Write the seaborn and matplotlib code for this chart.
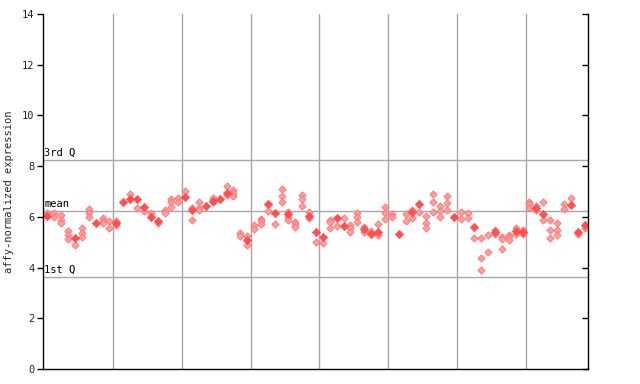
import matplotlib
matplotlib.use("Agg")
import matplotlib.pyplot as plt
import seaborn as sns
import pandas as pd

# Sample index and value of the filled (solid) points
solid_x = [0, 4, 7, 10, 11, 12, 13, 14, 15, 16, 20, 21, 23, 24, 25, 26, 29, 32, 33, 35,
           38, 39, 40, 42, 43, 46, 47, 48, 51, 53, 54, 59, 62, 65, 68, 69, 71, 72, 76, 77, 78]
solid_y = [6.05, 5.18, 5.77, 5.77, 6.57, 6.72, 6.72, 6.40, 6.0, 5.85, 6.77, 6.27, 6.44, 6.64,
           6.70, 6.95, 5.1, 6.49, 6.16, 6.11, 6.03, 5.42, 5.22, 5.97, 5.65, 5.52, 5.32, 5.42,
           5.32, 6.2, 6.49, 6.01, 5.61, 5.42, 5.45, 5.42, 6.36, 6.11, 6.47, 5.42, 5.68]

# Sample index and value of the replicate (hatched) points
rep_x = [0, 1, 1, 2, 2, 2, 3, 3, 3, 4, 5, 5, 5, 6, 6, 6, 8, 8, 8, 9, 9, 10, 10,
         12, 13, 14, 15, 16, 17, 17, 18, 18, 18, 19, 19, 20, 21, 21, 22, 22, 22,
         24, 24, 26, 26, 27, 27, 27, 28, 28, 29, 29, 30, 30, 31, 31, 31, 32, 33,
         34, 34, 34, 35, 35, 35, 36, 36, 36, 37, 37, 37, 38, 38, 39, 40,
         41, 41, 41, 42, 43, 44, 44, 44, 45, 45, 45, 46, 46, 47, 47, 48, 48,
         49, 49, 49, 50, 50, 52, 52, 53, 53, 54, 55, 55, 55, 56, 56, 56,
         57, 57, 57, 58, 58, 58, 60, 60, 61, 61, 62, 63, 63, 63, 64, 64,
         65, 65, 66, 66, 66, 67, 67, 67, 68, 68, 69, 69, 70, 70, 70, 71, 71,
         72, 72, 73, 73, 73, 74, 74, 74, 75, 75, 76, 77, 78]
rep_y = [6.15, 6.15, 6.0, 6.07, 5.88, 5.75, 5.45, 5.28, 5.11, 4.88, 5.55, 5.38, 5.22,
         6.31, 6.14, 5.98, 5.95, 5.85, 5.75, 5.84, 5.57, 5.85, 5.67,
         6.9, 6.34, 6.23, 6.16, 5.75, 6.29, 6.14, 6.69, 6.6, 6.4, 6.75, 6.6, 7.02,
         6.34, 5.88, 6.57, 6.34, 6.27,
         6.75, 6.57, 7.23, 6.86, 7.06, 6.95, 6.83, 5.35, 5.24, 5.24, 4.88, 5.66, 5.51,
         5.91, 5.84, 5.71, 6.23, 5.71,
         7.1, 6.82, 6.6, 6.2, 6.0, 5.88, 5.81, 5.71, 5.59, 6.86, 6.69, 6.41, 6.2, 5.94,
         5.0, 4.96,
         5.88, 5.81, 5.55, 5.64, 5.94, 5.68, 5.55, 5.39, 6.14, 5.98, 5.81, 5.59, 5.39,
         5.45, 5.38, 5.72, 5.3,
         6.4, 6.14, 5.9, 6.11, 6.01, 6.11, 5.84, 6.29, 5.94, 6.18, 6.03, 5.74, 5.55,
         6.9, 6.57, 6.18,
         6.44, 6.23, 5.98, 6.82, 6.53, 6.27, 6.18, 5.9, 6.14, 5.97, 5.15, 5.15, 4.36,
         3.9, 5.28, 4.6,
         5.5, 5.32, 5.2, 5.13, 4.73, 5.28, 5.2, 5.1, 5.55, 5.32, 5.48, 5.32, 6.6, 6.49,
         6.36, 6.44, 6.27,
         6.6, 5.88, 5.88, 5.48, 5.15, 5.75, 5.48, 5.3, 6.5, 6.3, 6.73, 5.32, 5.55]

group_bounds = [9.5, 19.5, 29.5, 39.5, 49.5, 59.5, 69.5]
ref_levels = [8.24, 6.23, 3.63]
ref_labels = ["3rd Q", "mean", "1st Q"]
y_ticks = [0, 2, 4, 6, 8, 10, 12, 14]

sns.set_style("white")
plt.rcParams["font.family"] = ["DejaVu Sans Mono", "DejaVu Sans"]

fig = plt.figure(figsize=(6.4, 3.84), dpi=100)
ax = fig.add_axes([43 / 640, 1 - 369 / 384, (588 - 43) / 640, (369 - 14) / 384])

grid_col = "#a8a8a8"
for b in group_bounds:
    ax.axvline(b, color=grid_col, lw=1, zorder=1)
for lv, lb in zip(ref_levels, ref_labels):
    ax.axhline(lv, color=grid_col, lw=1, zorder=1)
    ax.text(-0.45, lv + 0.08, lb, fontsize=7.5, ha="left", va="bottom", color="black", zorder=3)

rep_df = pd.DataFrame({"x": rep_x, "y": rep_y})
solid_df = pd.DataFrame({"x": solid_x, "y": solid_y})
sns.scatterplot(data=rep_df, x="x", y="y", ax=ax, marker="D", s=14, color="#ff9c9c",
                edgecolor="#ff6a6a", linewidth=0.5, zorder=2)
sns.scatterplot(data=solid_df, x="x", y="y", ax=ax, marker="D", s=18, color="#ff4f4f",
                edgecolor="#ff4f4f", linewidth=0.5, zorder=2)

ax.set_xlim(-0.65, 78.5)
ax.set_ylim(0, 14)
ax.set_xticks([])
ax.set_yticks(y_ticks)
ax.set_yticklabels([str(t) for t in y_ticks], fontsize=7.5)
ax.tick_params(axis="y", which="both", left=True, right=True, direction="out",
               length=4, width=1, color="black", pad=2)
ax.set_xlabel("")
ax.set_ylabel("affy-normalized expression", fontsize=7.5, labelpad=6)
for sp in ax.spines.values():
    sp.set_visible(True)
    sp.set_color("black")
    sp.set_linewidth(1)
ax.spines["top"].set_visible(False)
ax.grid(False)

# right-side ticks point inward
for tick in ax.yaxis.get_major_ticks():
    tick.tick2line.set_marker(matplotlib.lines.TICKLEFT)
    tick.tick2line.set_markersize(4)

fig.savefig("out.png", dpi=100)
